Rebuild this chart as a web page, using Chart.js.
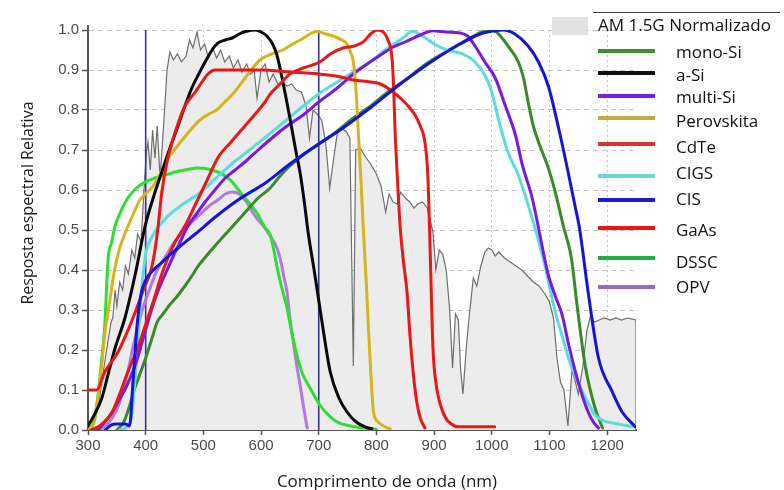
<!DOCTYPE html>
<html>
<head>
<meta charset="utf-8">
<script src="https://cdn.jsdelivr.net/npm/chart.js@4.4.1/dist/chart.umd.min.js"></script>
<style>
  body { margin: 0; background: #fff; }
  #wrap { position: relative; width: 784px; height: 490px; font-family: "Open Sans", sans-serif; }
  .leg-line { position: absolute; height: 4px; }
  .leg-text { position: absolute; font-size: 17px; line-height: 24px; color: #111; white-space: nowrap; }
</style>
</head>
<body>
<div id="wrap">
  <canvas id="espectro" width="784" height="490"></canvas>
  <div id="legenda"></div>
</div>
<script>
// resposta espectral relativa, [comprimento de onda nm, valor]
const am15g = [[300,0],[310,0.02],[320,0.08],[330,0.18],[340,0.27],[343,0.28],[347,0.35],[350,0.31],[355,0.37],[360,0.35],[365,0.41],[370,0.39],[376,0.45],[381,0.43],[386,0.49],[392,0.47],[397,0.6],[401,0.69],[404,0.72],[408,0.65],[412,0.75],[416,0.68],[420,0.76],[425,0.63],[431,0.76],[437,0.9],[442,0.945],[448,0.925],[455,0.94],[462,0.92],[470,0.935],[476,0.975],[482,0.955],[489,0.995],[495,0.95],[502,0.965],[509,0.93],[516,0.955],[523,0.93],[530,0.95],[537,0.92],[545,0.935],[552,0.905],[560,0.925],[567,0.895],[575,0.915],[582,0.89],[588,0.9],[593,0.83],[600,0.9],[607,0.915],[614,0.87],[621,0.89],[629,0.865],[637,0.87],[645,0.86],[653,0.865],[661,0.85],[670,0.845],[678,0.81],[684,0.73],[690,0.8],[697,0.79],[705,0.775],[712,0.72],[719,0.605],[726,0.68],[733,0.75],[740,0.755],[748,0.745],[754,0.73],[760,0.16],[764,0.7],[772,0.705],[780,0.685],[790,0.665],[800,0.64],[808,0.61],[816,0.545],[822,0.59],[829,0.57],[836,0.565],[842,0.595],[850,0.58],[858,0.57],[865,0.555],[872,0.565],[880,0.57],[888,0.555],[894,0.52],[898,0.495],[903,0.4],[909,0.45],[915,0.44],[921,0.4],[927,0.3],[932,0.155],[937,0.29],[942,0.275],[946,0.15],[950,0.09],[956,0.21],[962,0.3],[968,0.38],[974,0.36],[981,0.41],[988,0.445],[994,0.455],[1000,0.45],[1006,0.435],[1012,0.445],[1022,0.43],[1032,0.42],[1042,0.41],[1052,0.4],[1062,0.385],[1072,0.37],[1082,0.36],[1092,0.34],[1100,0.32],[1107,0.28],[1113,0.18],[1119,0.12],[1125,0.1],[1132,0.01],[1139,0.15],[1145,0.12],[1150,0.09],[1158,0.16],[1165,0.25],[1171,0.285],[1178,0.27],[1186,0.275],[1195,0.28],[1205,0.275],[1215,0.28],[1225,0.275],[1235,0.28],[1242,0.278],[1250,0.275],[1250,0]];

const monoSi = [[350,0],[362,0.02],[372,0.06],[380,0.1],[390,0.14],[400,0.18],[410,0.225],[420,0.27],[430,0.29],[440,0.31],[455,0.335],[468,0.36],[480,0.385],[491,0.41],[505,0.435],[520,0.46],[545,0.5],[570,0.54],[595,0.58],[616,0.605],[633,0.635],[650,0.66],[675,0.69],[700,0.715],[730,0.745],[760,0.78],[790,0.81],[820,0.845],[850,0.875],[886,0.915],[920,0.945],[950,0.97],[975,0.99],[995,1.0],[1008,0.995],[1028,0.96],[1046,0.92],[1055,0.88],[1063,0.82],[1072,0.76],[1081,0.72],[1098,0.655],[1110,0.595],[1124,0.51],[1138,0.43],[1148,0.31],[1162,0.16],[1179,0.055],[1192,0.005]];

const aSi = [[300,0.01],[310,0.035],[324,0.08],[335,0.14],[347,0.205],[364,0.28],[382,0.39],[399,0.51],[413,0.58],[428,0.645],[442,0.705],[456,0.76],[468,0.81],[480,0.855],[492,0.89],[503,0.92],[515,0.95],[525,0.967],[538,0.975],[550,0.98],[562,0.99],[575,0.997],[590,1.0],[600,0.995],[610,0.985],[620,0.965],[627,0.94],[635,0.89],[642,0.84],[650,0.78],[660,0.7],[668,0.64],[675,0.57],[682,0.49],[692,0.4],[702,0.305],[711,0.22],[720,0.145],[735,0.08],[749,0.045],[765,0.02],[780,0.008],[792,0.003]];

const multiSi = [[310,0],[320,0.005],[329,0.02],[340,0.04],[352,0.07],[367,0.11],[382,0.1625],[396,0.23],[411,0.305],[422,0.35],[434,0.39],[448,0.435],[463,0.48],[473,0.51],[488,0.54],[503,0.57],[520,0.6],[538,0.63],[555,0.65],[572,0.67],[595,0.7],[619,0.73],[645,0.76],[673,0.7875],[700,0.82],[732,0.855],[760,0.89],[789,0.92],[810,0.94],[829,0.9575],[850,0.97],[876,0.9875],[898,0.998],[920,0.995],[945,0.9925],[958,0.985],[971,0.96],[988,0.92],[1006,0.88],[1023,0.8125],[1041,0.7375],[1053,0.6625],[1070,0.58],[1081,0.505],[1090,0.44],[1098,0.3875],[1110,0.335],[1122,0.2875],[1133,0.215],[1145,0.145],[1156,0.09],[1167,0.045],[1176,0.02],[1185,0.005]];

const perovskita = [[300,0],[307,0.01],[315,0.06],[321,0.125],[330,0.25],[338,0.325],[346,0.4],[355,0.455],[368,0.505],[380,0.545],[390,0.575],[413,0.61],[425,0.64],[437,0.675],[455,0.71],[472,0.74],[494,0.775],[510,0.79],[523,0.8],[537,0.82],[551,0.84],[575,0.885],[598,0.925],[618,0.94],[638,0.95],[655,0.965],[668,0.975],[685,0.99],[697,0.997],[712,0.99],[725,0.985],[740,0.975],[749,0.965],[755,0.945],[760,0.92],[765,0.84],[768,0.76],[773,0.63],[777,0.51],[782,0.38],[786,0.26],[790,0.15],[795,0.045],[803,0.02],[812,0.01],[824,0.003]];

const cdte = [[305,0],[320,0.01],[342,0.045],[355,0.09],[369,0.145],[385,0.2],[399,0.26],[414,0.325],[428,0.39],[440,0.435],[451,0.47],[468,0.51],[485,0.56],[505,0.62],[525,0.68],[548,0.72],[572,0.76],[590,0.79],[607,0.82],[616,0.84],[633,0.865],[650,0.89],[673,0.905],[702,0.92],[720,0.94],[742,0.955],[762,0.96],[777,0.97],[790,0.99],[801,1.0],[812,0.995],[820,0.975],[827,0.93],[830,0.85],[832,0.76],[836,0.64],[841,0.51],[847,0.42],[853,0.345],[858,0.24],[864,0.14],[870,0.07],[876,0.03],[884,0.005]];

const cigs = [[355,0],[368,0.008],[375,0.03],[380,0.1],[385,0.2],[390,0.3],[395,0.38],[400,0.44],[410,0.48],[437,0.5325],[465,0.565],[494,0.5925],[522,0.63],[551,0.6675],[580,0.7],[610,0.735],[640,0.77],[673,0.81],[700,0.84],[732,0.87],[760,0.895],[789,0.92],[815,0.95],[846,0.98],[862,0.997],[880,0.985],[900,0.965],[922,0.95],[950,0.94],[971,0.92],[988,0.8875],[1000,0.845],[1011,0.78],[1028,0.695],[1046,0.6375],[1063,0.5625],[1075,0.505],[1093,0.405],[1110,0.295],[1122,0.235],[1133,0.18],[1145,0.135],[1157,0.095],[1168,0.065],[1179,0.0375],[1195,0.022],[1209,0.0175],[1230,0.012],[1249,0.008]];

const cis = [[330,0],[340,0.012],[350,0.015],[365,0.015],[372,0.01],[378,0.12],[385,0.26],[392,0.34],[400,0.375],[410,0.395],[425,0.415],[440,0.435],[460,0.46],[486,0.49],[523,0.535],[560,0.575],[610,0.62],[650,0.665],[700,0.715],[732,0.745],[789,0.805],[846,0.87],[905,0.93],[945,0.965],[980,0.99],[1005,0.998],[1020,1.0],[1040,0.99],[1063,0.96],[1081,0.92],[1098,0.86],[1115,0.76],[1133,0.64],[1145,0.555],[1152,0.505],[1167,0.345],[1185,0.18],[1209,0.095],[1226,0.045],[1249,0.008]];

const gaas = [[300,0.1],[315,0.1],[329,0.145],[352,0.195],[368,0.245],[382,0.295],[396,0.35],[411,0.41],[420,0.49],[428,0.595],[437,0.67],[446,0.72],[457,0.77],[468,0.81],[486,0.845],[500,0.875],[508,0.89],[520,0.9],[560,0.9],[600,0.9],[650,0.895],[700,0.89],[730,0.885],[760,0.875],[790,0.87],[807,0.865],[829,0.845],[845,0.825],[858,0.805],[868,0.785],[876,0.76],[884,0.72],[889,0.64],[892,0.51],[895,0.35],[898,0.205],[904,0.11],[911,0.0625],[920,0.03],[930,0.015],[940,0.008],[1005,0.008]];

const dssc = [[305,0],[312,0.03],[318,0.095],[324,0.18],[329,0.26],[332,0.35],[335,0.43],[341,0.47],[347,0.51],[358,0.55],[369,0.58],[384,0.605],[399,0.62],[416,0.63],[434,0.6375],[451,0.645],[468,0.65],[491,0.655],[510,0.652],[525,0.645],[538,0.635],[550,0.62],[561,0.6],[572,0.58],[584,0.56],[595,0.5375],[607,0.505],[616,0.4875],[622,0.45],[628,0.405],[636,0.355],[645,0.305],[653,0.245],[662,0.1875],[672,0.14],[685,0.105],[702,0.0625],[715,0.04],[732,0.02],[755,0.01],[777,0.005],[800,0.002]];

const opv = [[320,0],[330,0.01],[342,0.03],[355,0.07],[368,0.14],[380,0.22],[392,0.29],[405,0.345],[420,0.4],[435,0.435],[450,0.47],[465,0.495],[480,0.52],[495,0.54],[510,0.56],[525,0.575],[538,0.59],[551,0.595],[562,0.59],[575,0.57],[585,0.545],[595,0.525],[607,0.505],[618,0.48],[626,0.46],[633,0.43],[640,0.38],[645,0.345],[650,0.28],[656,0.22],[662,0.16],[668,0.11],[674,0.055],[680,0.005]];

// linhas verticais de referência (nm)
const marcas = [400, 700];
const yTicks = [0, 0.1, 0.2, 0.3, 0.4, 0.5, 0.6, 0.7, 0.8, 0.9, 1.0];

const pts = arr => arr.map(p => ({ x: p[0], y: p[1] }));

const curvas = [
  { label: 'CIS', data: cis, color: '#1414dc', leg: '#1a1ad8' },
  { label: 'GaAs', data: gaas, color: '#ee1515', leg: '#ee1515' },
  { label: 'CdTe', data: cdte, color: '#e81818', leg: '#d63535' },
  { label: 'a-Si', data: aSi, color: '#0a0a0a', leg: '#111111' },
  { label: 'Perovskita', data: perovskita, color: '#d6b41e', leg: '#c9a83a' },
  { label: 'multi-Si', data: multiSi, color: '#7a18e6', leg: '#7422dc' },
  { label: 'CIGS', data: cigs, color: '#5cdce0', leg: '#66d8dc' },
  { label: 'mono-Si', data: monoSi, color: '#3a8a28', leg: '#3f8f30' },
  { label: 'DSSC', data: dssc, color: '#2ee02e', leg: '#1fae48' },
  { label: 'OPV', data: opv, color: '#b07ae0', leg: '#9a6acb' }
];

const datasets = curvas.map(c => ({
  label: c.label,
  data: pts(c.data),
  borderColor: c.color,
  borderWidth: 3,
  pointRadius: 0,
  showLine: true,
  fill: false,
  cubicInterpolationMode: 'monotone',
  borderJoinStyle: 'round',
  borderCapStyle: 'round',
  order: 1
}));

marcas.forEach(nm => {
  datasets.push({
    label: 'ref ' + nm,
    data: [{ x: nm, y: 0 }, { x: nm, y: 1.0 }],
    borderColor: '#34349a',
    borderWidth: 1.6,
    pointRadius: 0,
    showLine: true,
    tension: 0,
    order: 5
  });
});

datasets.push({
  label: 'AM 1.5G Normalizado',
  data: pts(am15g),
  borderColor: '#6e6e6e',
  borderWidth: 1.2,
  backgroundColor: '#ececec',
  fill: 'origin',
  pointRadius: 0,
  showLine: true,
  tension: 0,
  order: 10
});

// eixos sólidos por baixo das curvas
const eixos = {
  id: 'eixos',
  beforeDatasetsDraw(chart) {
    const { ctx, chartArea: a } = chart;
    ctx.save();
    ctx.strokeStyle = '#555';
    ctx.lineWidth = 2;
    ctx.beginPath();
    ctx.moveTo(a.left, a.top - 5);
    ctx.lineTo(a.left, a.bottom);
    ctx.lineTo(a.right, a.bottom);
    ctx.stroke();
    ctx.restore();
  }
};

const titulos = {
  id: 'titulos',
  afterDraw(chart) {
    const ctx = chart.ctx;
    ctx.save();
    ctx.fillStyle = '#1a1a1a';
    ctx.textAlign = 'center';
    ctx.font = '17px "Open Sans"';
    ctx.fillText('Comprimento de onda (nm)', 387, 487);
    ctx.translate(33, 203);
    ctx.rotate(-Math.PI / 2);
    ctx.font = '16px "Open Sans"';
    ctx.fillText('Resposta espectral Relativa', 0, 0);
    ctx.restore();
  }
};

const tickFont = { family: '"Liberation Sans", Arial, sans-serif', size: 15 };

new Chart(document.getElementById('espectro'), {
  type: 'scatter',
  data: { datasets },
  options: {
    responsive: false,
    animation: false,
    layout: { padding: { top: 30, right: 148, left: 0, bottom: 0 } },
    plugins: { legend: { display: false }, tooltip: { enabled: false } },
    scales: {
      x: {
        type: 'linear', min: 300, max: 1250,
        afterFit(s) { s.height = 60; },
        ticks: { stepSize: 100, includeBounds: false, color: '#4a4a4a', font: tickFont, padding: 2, maxRotation: 0, callback: v => String(v) },
        grid: { color: '#c4c4c4', lineWidth: 1, tickLength: 5, tickColor: '#555', tickWidth: 1.5 },
        border: { color: '#555', width: 2, dash: [2, 3] }
      },
      y: {
        type: 'linear', min: 0, max: 1.0,
        afterFit(s) { s.width = 88; },
        afterBuildTicks(s) { s.ticks = yTicks.map(v => ({ value: v })); },
        ticks: { color: '#4a4a4a', font: tickFont, padding: 3, callback: v => v.toFixed(1) },
        grid: { color: '#c4c4c4', lineWidth: 1, tickLength: 6, tickColor: '#555', tickWidth: 1.5 },
        border: { color: '#555', width: 2, dash: [5, 4] }
      }
    }
  },
  plugins: [eixos, titulos]
});

// legenda
const leg = document.getElementById('legenda');
const linhaTopo = document.createElement('div');
linhaTopo.style.cssText = 'position:absolute;left:593px;top:12px;width:187px;border-top:1px solid #444;';
leg.appendChild(linhaTopo);
const caixa = document.createElement('div');
caixa.style.cssText = 'position:absolute;left:552px;top:17px;width:36px;height:18px;background:#e2e2e2;';
leg.appendChild(caixa);
const amTxt = document.createElement('div');
amTxt.className = 'leg-text';
amTxt.style.left = '598px';
amTxt.style.top = '13px';
amTxt.textContent = 'AM 1.5G Normalizado';
leg.appendChild(amTxt);

const ordemLeg = ['mono-Si', 'a-Si', 'multi-Si', 'Perovskita', 'CdTe', 'CIGS', 'CIS', 'GaAs', 'DSSC', 'OPV'];
const linhaY = [51, 73, 96, 118, 144, 176, 200, 228, 258, 287];
const textoY = [52, 75, 97, 121, 147, 173, 199, 230, 262, 287];
ordemLeg.forEach((nome, i) => {
  const c = curvas.find(k => k.label === nome);
  const l = document.createElement('div');
  l.className = 'leg-line';
  l.style.cssText += 'left:598px;width:57px;top:' + (linhaY[i] - 2) + 'px;background:' + c.leg + ';';
  leg.appendChild(l);
  const t = document.createElement('div');
  t.className = 'leg-text';
  t.style.left = '676px';
  t.style.top = (textoY[i] - 12) + 'px';
  t.textContent = nome;
  leg.appendChild(t);
});
</script>
</body>
</html>
